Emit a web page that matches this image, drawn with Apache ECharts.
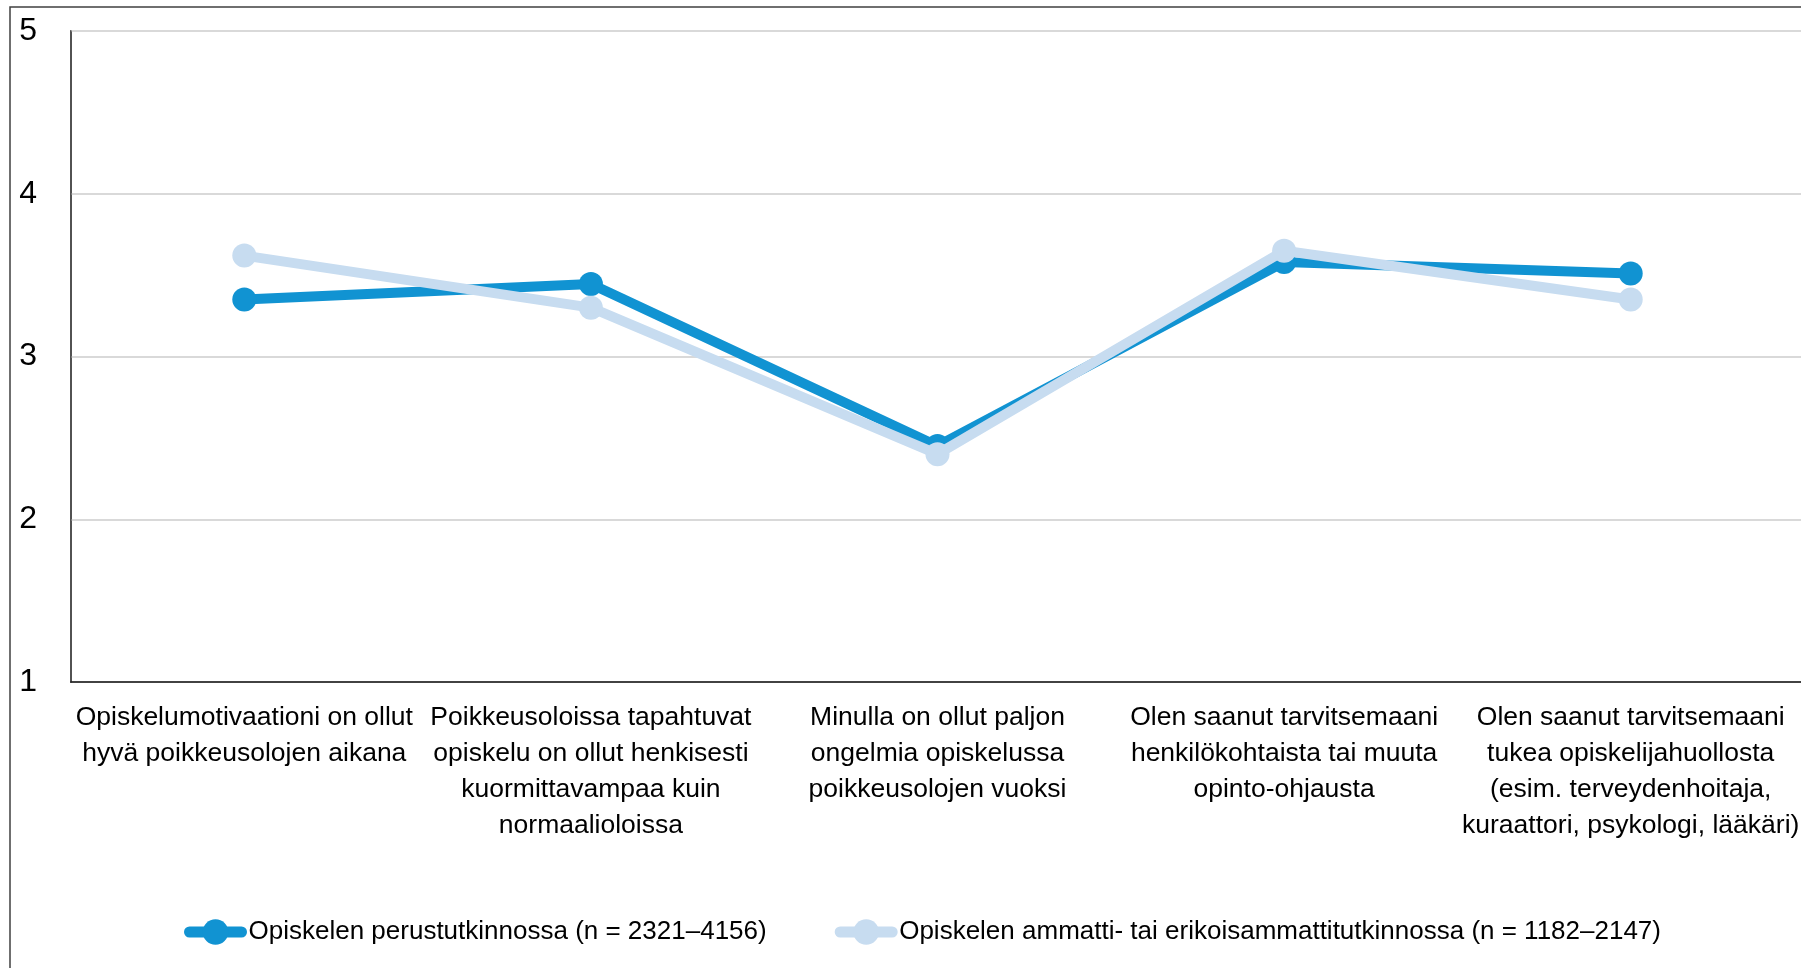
<!DOCTYPE html>
<html>
<head>
<meta charset="utf-8">
<script src="https://cdn.jsdelivr.net/npm/echarts@6/dist/echarts.min.js"></script>
<style>
  html, body { margin: 0; padding: 0; background: #fff; }
  #chart { width: 1801px; height: 968px; }
</style>
</head>
<body>
<div id="chart"></div>
<script>
const categories = [
  "Opiskelumotivaationi on ollut\nhyvä poikkeusolojen aikana",
  "Poikkeusoloissa tapahtuvat\nopiskelu on ollut henkisesti\nkuormittavampaa kuin\nnormaalioloissa",
  "Minulla on ollut paljon\nongelmia opiskelussa\npoikkeusolojen vuoksi",
  "Olen saanut tarvitsemaani\nhenkilökohtaista tai muuta\nopinto-ohjausta",
  "Olen saanut tarvitsemaani\ntukea opiskelijahuollosta\n(esim. terveydenhoitaja,\nkuraattori, psykologi, lääkäri)"
];
const perustutkinto = [3.35, 3.445, 2.45, 3.58, 3.51];
const ammatti = [3.62, 3.30, 2.40, 3.65, 3.35];
const seriesNames = [
  "Opiskelen perustutkinnossa (n = 2321–4156)",
  "Opiskelen ammatti- tai erikoisammattitutkinnossa (n = 1182–2147)"
];

const font = "'Liberation Sans Narrow', 'Arial Narrow', 'Liberation Sans', sans-serif";
const chart = echarts.init(document.getElementById("chart"));

chart.setOption({
  animation: false,
  textStyle: { fontFamily: font },
  graphic: [
    {
      // outer frame, runs off the right and bottom edges
      type: "rect",
      shape: { x: 10, y: 7, width: 1900, height: 1100 },
      style: { fill: "none", stroke: "#404040", lineWidth: 1.5 },
      silent: true
    }
  ],
  grid: {
    left: 71,
    top: 31,
    right: -3,
    bottom: 286,
    outerBoundsMode: "none",
    containLabel: false,
    show: true,
    borderColor: "#111",
    borderWidth: 1.5
  },
  legend: {
    left: 179,
    top: 914,
    width: 1700,
    itemWidth: 52,
    itemHeight: 32,
    itemGap: 68,
    lineStyle: { width: 11, cap: "round" },
    textStyle: { fontFamily: font, fontSize: 26, color: "#000", padding: [0, 0, 0, 2] },
    data: seriesNames
  },
  xAxis: {
    type: "category",
    data: categories,
    boundaryGap: true,
    axisLine: { show: true, lineStyle: { color: "#111", width: 1.5 } },
    axisTick: { show: false },
    axisLabel: {
      interval: 0,
      margin: 18,
      fontSize: 26.5,
      lineHeight: 36,
      color: "#000",
      fontFamily: font
    }
  },
  yAxis: {
    type: "value",
    min: 1,
    max: 5,
    interval: 1,
    axisLine: { show: true, lineStyle: { color: "#555", width: 1.5 } },
    axisTick: { show: false },
    splitLine: { lineStyle: { color: "#d9d9d9", width: 2 } },
    axisLabel: {
      margin: 34,
      fontSize: 32,
      color: "#000",
      fontFamily: font
    }
  },
  series: [
    {
      name: seriesNames[0],
      type: "line",
      data: perustutkinto,
      symbol: "circle",
      symbolSize: 24,
      color: "#1193d2",
      lineStyle: { width: 10, color: "#1193d2" },
      itemStyle: { color: "#1193d2" },
      z: 2
    },
    {
      name: seriesNames[1],
      type: "line",
      data: ammatti,
      symbol: "circle",
      symbolSize: 24,
      color: "#c7dcf0",
      lineStyle: { width: 10, color: "#c7dcf0" },
      itemStyle: { color: "#c7dcf0" },
      z: 3
    }
  ]
});
</script>
</body>
</html>
